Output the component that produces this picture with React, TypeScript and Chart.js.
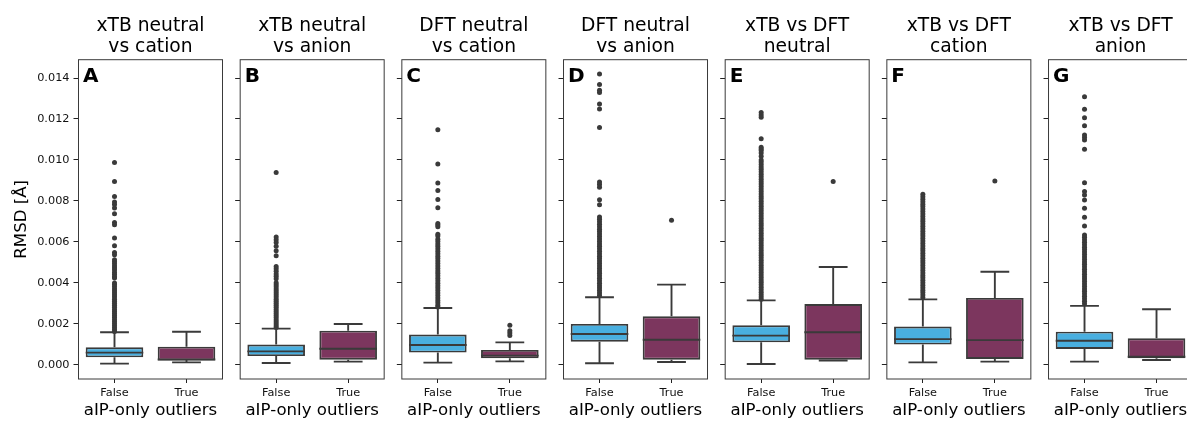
import React, { useEffect, useRef } from 'react';
import { Chart, registerables } from 'chart.js';

Chart.register(...registerables);

// ---------------- data ----------------
const PANEL_TITLES = [
  ['xTB neutral', 'vs cation'],
  ['xTB neutral', 'vs anion'],
  ['DFT neutral', 'vs cation'],
  ['DFT neutral', 'vs anion'],
  ['xTB vs DFT', 'neutral'],
  ['xTB vs DFT', 'cation'],
  ['xTB vs DFT', 'anion'],
];
const PANEL_LETTERS = ['A', 'B', 'C', 'D', 'E', 'F', 'G'];
const CATEGORIES = ['False', 'True'];
const X_LABEL = 'aIP-only outliers';
const Y_LABEL = 'RMSD [Å]';
const Y_TICKS = [0, 0.002, 0.004, 0.006, 0.008, 0.01, 0.012, 0.014];
const Y_MIN = -0.0007;
const Y_MAX = 0.014896;

// box statistics per panel (A..G): lower whisker, Q1, median, Q3, upper whisker
const LOW_FALSE = [0.00005, 0.00008, 0.0001, 0.00007, 0.00003, 0.00011, 0.00015];
const Q1_FALSE = [0.00036, 0.00042, 0.00059, 0.00112, 0.00109, 0.00098, 0.00077];
const MED_FALSE = [0.00059, 0.00065, 0.00096, 0.0015, 0.00142, 0.00125, 0.00117];
const Q3_FALSE = [0.00085, 0.00098, 0.00147, 0.00199, 0.00192, 0.00186, 0.00161];
const HIGH_FALSE = [0.00158, 0.00176, 0.00277, 0.00329, 0.00314, 0.00319, 0.00287];

const LOW_TRUE = [0.00011, 0.00015, 0.00016, 0.00013, 0.0002, 0.00015, 0.00023];
const Q1_TRUE = [0.0002, 0.00024, 0.00031, 0.00024, 0.00024, 0.00028, 0.00031];
const MED_TRUE = [0.00025, 0.00078, 0.00044, 0.00122, 0.00158, 0.0012, 0.00039];
const Q3_TRUE = [0.00088, 0.00166, 0.00072, 0.00236, 0.00296, 0.00326, 0.00129];
const HIGH_TRUE = [0.00161, 0.00199, 0.00109, 0.00391, 0.00477, 0.00454, 0.00271];

// outliers
const OUT_A_FALSE = [0.00988, 0.00895, 0.00822, 0.00795, 0.00782, 0.00765, 0.00737, 0.00695, 0.00684, 0.00619, 0.00581, 0.00548, 0.00537, 0.00513, 0.00503, 0.00493, 0.00482, 0.00472, 0.00462, 0.0045, 0.0044, 0.0043, 0.00423, 0.00399, 0.0039, 0.0038, 0.0037, 0.0036, 0.0035, 0.0034, 0.0033, 0.0032, 0.0031, 0.003, 0.0029, 0.0028, 0.0027, 0.0026, 0.0025, 0.0024, 0.0023, 0.0022, 0.0021, 0.002, 0.0019, 0.0018, 0.0017, 0.00162];
const OUT_A_TRUE: number[] = [];
const OUT_B_FALSE = [0.00939, 0.00624, 0.0061, 0.00597, 0.00578, 0.00557, 0.00532, 0.0048, 0.00468, 0.00456, 0.00443, 0.00432, 0.0042, 0.004, 0.0039, 0.0038, 0.0037, 0.0036, 0.0035, 0.0034, 0.0033, 0.0032, 0.0031, 0.003, 0.0029, 0.0028, 0.0027, 0.0026, 0.0025, 0.0024, 0.0023, 0.0022, 0.0021, 0.002, 0.0019, 0.00181];
const OUT_B_TRUE: number[] = [];
const OUT_C_FALSE = [0.01148, 0.0098, 0.00887, 0.00851, 0.00807, 0.00767, 0.0069, 0.00682, 0.00674, 0.00637, 0.00628, 0.00612, 0.00602, 0.0059, 0.00578, 0.00566, 0.00554, 0.00542, 0.0053, 0.00518, 0.00506, 0.00494, 0.00482, 0.0047, 0.00458, 0.00446, 0.00434, 0.00422, 0.0041, 0.00398, 0.00386, 0.00374, 0.00362, 0.0035, 0.00338, 0.00326, 0.00314, 0.00302, 0.0029, 0.00282];
const OUT_C_TRUE = [0.00192, 0.00166, 0.00155, 0.00143];
const OUT_D_FALSE = [0.0142, 0.01368, 0.0134, 0.0133, 0.01273, 0.01249, 0.01159, 0.00892, 0.0088, 0.00866, 0.00806, 0.00781, 0.00721, 0.0071, 0.00698, 0.00686, 0.00674, 0.00662, 0.0065, 0.00638, 0.00626, 0.00614, 0.00602, 0.0059, 0.00578, 0.00566, 0.00554, 0.00542, 0.0053, 0.00518, 0.00506, 0.00494, 0.00482, 0.0047, 0.00458, 0.00446, 0.00434, 0.00422, 0.0041, 0.00398, 0.00386, 0.00374, 0.00362, 0.0035, 0.00338];
const OUT_D_TRUE = [0.00705];
const OUT_E_FALSE = [0.01232, 0.0122, 0.01208, 0.01104, 0.01062, 0.01054, 0.01046, 0.01034, 0.01018, 0.01, 0.0099, 0.00978, 0.00966, 0.00954, 0.00942, 0.0093, 0.00918, 0.00906, 0.00894, 0.00882, 0.0087, 0.00858, 0.00846, 0.00834, 0.00822, 0.0081, 0.00798, 0.00786, 0.00774, 0.00762, 0.0075, 0.00738, 0.00726, 0.00714, 0.00702, 0.0069, 0.00678, 0.00666, 0.00654, 0.00642, 0.0063, 0.00618, 0.00606, 0.00594, 0.00582, 0.0057, 0.00558, 0.00546, 0.00534, 0.00522, 0.0051, 0.00498, 0.00486, 0.00474, 0.00462, 0.0045, 0.00438, 0.00426, 0.00414, 0.00402, 0.0039, 0.00378, 0.00366, 0.00354, 0.00342, 0.0033, 0.0032];
const OUT_E_TRUE = [0.00895];
const OUT_F_FALSE = [0.00832, 0.0082, 0.00808, 0.00796, 0.00784, 0.00772, 0.0076, 0.00748, 0.00736, 0.00724, 0.00712, 0.007, 0.00688, 0.00676, 0.00664, 0.00652, 0.0064, 0.00628, 0.00616, 0.00604, 0.00592, 0.0058, 0.00568, 0.00556, 0.00544, 0.00532, 0.0052, 0.00508, 0.00496, 0.00484, 0.00472, 0.0046, 0.00448, 0.00436, 0.00424, 0.00412, 0.004, 0.00388, 0.00376, 0.00364, 0.00352, 0.0034, 0.00328];
const OUT_F_TRUE = [0.00897];
const OUT_G_FALSE = [0.01309, 0.01247, 0.01206, 0.01167, 0.01122, 0.01109, 0.01097, 0.01052, 0.00889, 0.00846, 0.00829, 0.00804, 0.00764, 0.0072, 0.00677, 0.00633, 0.00622, 0.0061, 0.00598, 0.00586, 0.00574, 0.00562, 0.0055, 0.00538, 0.00526, 0.00514, 0.00502, 0.0049, 0.00478, 0.00466, 0.00454, 0.00442, 0.0043, 0.00418, 0.00406, 0.00394, 0.00382, 0.0037, 0.00358, 0.00346, 0.00334, 0.00322, 0.0031, 0.00298];
const OUT_G_TRUE: number[] = [];

const OUTLIERS = [
  [OUT_A_FALSE, OUT_A_TRUE],
  [OUT_B_FALSE, OUT_B_TRUE],
  [OUT_C_FALSE, OUT_C_TRUE],
  [OUT_D_FALSE, OUT_D_TRUE],
  [OUT_E_FALSE, OUT_E_TRUE],
  [OUT_F_FALSE, OUT_F_TRUE],
  [OUT_G_FALSE, OUT_G_TRUE],
];

// ---------------- style / layout ----------------
const FONT = 'DejaVu Sans';
const BOX_COLORS = ['#49afe0', '#7c365e'];
const LINE_COLOR = '#3a3a3a';
const FRAME_COLOR = '#3a3a3a';
const PLOT_W = 144;
const FIRST_LEFT = 78.5;
const PANEL_STEP = 161.67;
const CANVAS_H = 421;
const X_AXIS_H = 42;
const BOX_HALF = 0.4;
const CAP_HALF = 0.2;

function statsFor(p: number) {
  return [
    [LOW_FALSE[p], Q1_FALSE[p], MED_FALSE[p], Q3_FALSE[p], HIGH_FALSE[p]],
    [LOW_TRUE[p], Q1_TRUE[p], MED_TRUE[p], Q3_TRUE[p], HIGH_TRUE[p]],
  ];
}

function linePoints(p: number) {
  const pts: any[] = [];
  statsFor(p).forEach(([lo, q1, med, q3, hi], c) => {
    const segs = [
      [c, lo, c, q1],
      [c, q3, c, hi],
      [c - CAP_HALF, lo, c + CAP_HALF, lo],
      [c - CAP_HALF, hi, c + CAP_HALF, hi],
      [c - BOX_HALF, med, c + BOX_HALF, med],
    ];
    segs.forEach(([x1, y1, x2, y2]) => {
      pts.push({ x: x1, y: y1 }, { x: x2, y: y2 }, { x: x2, y: null });
    });
  });
  return pts;
}

const panelDecor = {
  id: 'panelDecor',
  afterDatasetsDraw(chart: any, _args: any, opts: any) {
    const { ctx, chartArea } = chart;
    const { left, top, right, bottom } = chartArea;
    ctx.save();
    ctx.strokeStyle = FRAME_COLOR;
    ctx.lineWidth = 1;
    ctx.strokeRect(left, top, right - left, bottom - top);
    ctx.fillStyle = '#000';
    ctx.font = `bold 20px "${FONT}"`;
    ctx.textBaseline = 'alphabetic';
    ctx.textAlign = 'left';
    ctx.fillText(opts.letter, left + 4.5, top + 22.3);
    ctx.restore();
  },
};

function Panel({ idx }: { idx: number }) {
  const ref = useRef<HTMLCanvasElement>(null);
  const plotLeft = FIRST_LEFT + PANEL_STEP * idx;
  const canvasLeft = idx === 0 ? 0 : Math.floor(plotLeft) - 7;
  const yw = plotLeft - canvasLeft;
  const canvasW = Math.ceil(yw + PLOT_W + 4);

  useEffect(() => {
    const first = idx === 0;
    const [outF, outT] = OUTLIERS[idx];
    const stats = statsFor(idx);
    const chart = new Chart(ref.current as HTMLCanvasElement, {
      type: 'bar',
      data: {
        datasets: [
          {
            type: 'scatter',
            data: [
              ...outF.map((v) => ({ x: 0, y: v })),
              ...outT.map((v) => ({ x: 1, y: v })),
            ],
            pointRadius: 2.5,
            pointBackgroundColor: LINE_COLOR,
            pointBorderWidth: 0,
            order: 0,
          } as any,
          {
            type: 'line',
            data: linePoints(idx),
            borderColor: LINE_COLOR,
            borderWidth: 1.9,
            pointRadius: 0,
            spanGaps: false,
            tension: 0,
            order: 1,
          } as any,
          {
            type: 'bar',
            data: stats.map((s, c) => ({ x: c, y: [s[1], s[3]] })),
            backgroundColor: BOX_COLORS,
            borderColor: LINE_COLOR,
            borderWidth: 1.9,
            borderSkipped: false,
            barPercentage: 0.8,
            categoryPercentage: 1,
            order: 2,
          } as any,
        ],
      },
      options: {
        responsive: false,
        animation: false,
        events: [],
        layout: { padding: { left: 0, right: canvasW - yw - PLOT_W, top: 0, bottom: 0 } },
        plugins: {
          legend: { display: false },
          tooltip: { enabled: false },
          title: {
            display: true,
            text: PANEL_TITLES[idx],
            fullSize: false,
            color: '#000',
            font: { family: FONT, size: 18.7, weight: 'normal', lineHeight: 21 / 18.7 },
            padding: { top: 15.7, bottom: 2 },
          },
          panelDecor: { letter: PANEL_LETTERS[idx] },
        } as any,
        scales: {
          x: {
            type: 'linear',
            min: -0.5,
            max: 1.5,
            offset: false,
            afterBuildTicks: (s: any) => {
              s.ticks = CATEGORIES.map((_, i) => ({ value: i }));
            },
            afterFit: (s: any) => {
              s.height = X_AXIS_H;
            },
            ticks: {
              color: '#111',
              font: { family: FONT, size: 11.3 },
              padding: 3,
              maxRotation: 0,
              callback: (v: any) => CATEGORIES[Number(v)],
            },
            grid: {
              display: true,
              offset: false,
              drawOnChartArea: false,
              drawTicks: true,
              tickLength: 4,
              tickColor: '#222',
              tickWidth: 1,
            },
            border: { display: false },
            title: {
              display: true,
              text: X_LABEL,
              color: '#000',
              font: { family: FONT, size: 16.6, lineHeight: 1.15 },
              padding: { top: 0, bottom: 1 },
            },
          },
          y: {
            type: 'linear',
            min: Y_MIN,
            max: Y_MAX,
            afterBuildTicks: (s: any) => {
              s.ticks = Y_TICKS.map((v) => ({ value: v }));
            },
            afterFit: (s: any) => {
              s.width = yw;
            },
            ticks: {
              display: first,
              color: '#111',
              font: { family: FONT, size: 11.3 },
              padding: 4,
              callback: (v: any) => Number(v).toFixed(3),
            },
            grid: {
              display: true,
              drawOnChartArea: false,
              drawTicks: true,
              tickLength: 5,
              tickColor: '#222',
              tickWidth: 1,
            },
            border: { display: false },
            title: {
              display: first,
              text: Y_LABEL,
              color: '#000',
              font: { family: FONT, size: 16.6, lineHeight: 1.15 },
              padding: { top: 12, bottom: 0 },
            },
          },
        },
      } as any,
      plugins: [panelDecor],
    });
    return () => chart.destroy();
  }, [idx]);

  return (
    <canvas
      ref={ref}
      width={canvasW}
      height={CANVAS_H}
      style={{ position: 'absolute', left: canvasLeft, top: 0, width: canvasW, height: CANVAS_H }}
    />
  );
}

export default function App() {
  return (
    <div
      style={{
        position: 'fixed',
        left: 0,
        top: 0,
        width: 1187,
        height: 421,
        overflow: 'hidden',
        background: '#fff',
      }}
    >
      {PANEL_TITLES.map((_, i) => (
        <Panel key={i} idx={i} />
      ))}
    </div>
  );
}
